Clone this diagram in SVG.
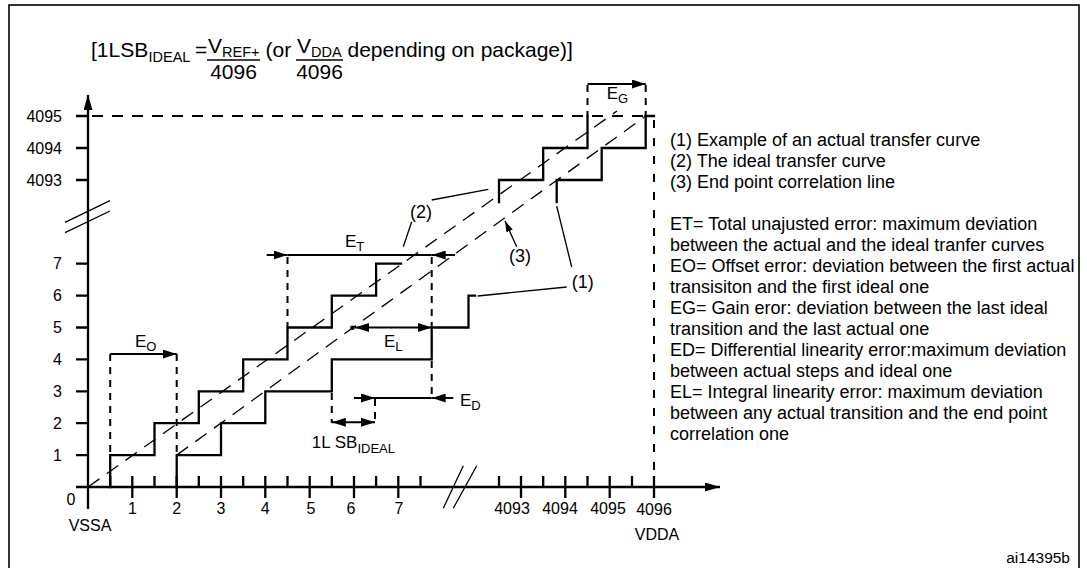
<svg xmlns="http://www.w3.org/2000/svg" width="1087" height="568" viewBox="0 0 1087 568">
<defs>
<style>
text{font-family:"Liberation Sans",Arial,Helvetica,sans-serif;fill:#000}
.f{font-size:21px}
.fs{font-size:14.5px}
.t18{font-size:18px}
.ax{font-size:16px}
.lbl{font-size:17px}
.sub{font-size:13px}
.axis{stroke:#000;stroke-width:2.3;fill:none}
.step{stroke:#000;stroke-width:2.3;fill:none;stroke-linejoin:miter;stroke-linecap:square}
.dv{stroke:#000;stroke-width:2;fill:none;stroke-dasharray:7 6}
.dv2{stroke:#000;stroke-width:2;fill:none;stroke-dasharray:8 10}
.dh{stroke:#000;stroke-width:2;fill:none;stroke-dasharray:11 9}
.diag{stroke:#000;stroke-width:1.3;fill:none;stroke-dasharray:14 9}
.lead{stroke:#000;stroke-width:1.3;fill:none}
.arr{stroke:#000;stroke-width:2;fill:none}
.tick{stroke:#000;stroke-width:2.3;fill:none}
.brk{stroke:#000;stroke-width:1.3;fill:none}
</style>
<marker id="ah" markerUnits="userSpaceOnUse" viewBox="0 0 14 9" markerWidth="14" markerHeight="9" refX="14" refY="4.5" orient="auto-start-reverse"><path d="M0,0 L14,4.5 L0,9 z" fill="#000"/></marker>
<marker id="ahs" markerUnits="userSpaceOnUse" viewBox="0 0 11 7" markerWidth="11" markerHeight="7" refX="11" refY="3.5" orient="auto"><path d="M0,0 L11,3.5 L0,7 z" fill="#000"/></marker>
<marker id="axh" markerUnits="userSpaceOnUse" viewBox="0 0 15 9" markerWidth="15" markerHeight="9" refX="15" refY="4.5" orient="auto"><path d="M0,0 L15,4.5 L0,9 z" fill="#000"/></marker>
</defs>

<rect id="frame" x="9" y="5" width="1070" height="600" fill="none" stroke="#000" stroke-width="1.6"/>

<g id="formula">
<text class="f" x="91" y="57">[1LSB</text>
<text class="fs" x="148.5" y="62">IDEAL</text>
<text class="f" x="195" y="57">=</text>
<text class="f" x="208" y="53">V</text>
<text class="fs" x="222" y="56.5">REF+</text>
<line x1="207" y1="60" x2="260" y2="60" stroke="#000" stroke-width="1.3"/>
<text class="f" x="233.5" y="79" text-anchor="middle">4096</text>
<text class="f" x="265.5" y="57">(or</text>
<text class="f" x="297" y="53">V</text>
<text class="fs" x="311" y="56.5">DDA</text>
<line x1="296" y1="60" x2="343" y2="60" stroke="#000" stroke-width="1.3"/>
<text class="f" x="319.5" y="79" text-anchor="middle">4096</text>
<text class="f" x="347.5" y="57">depending on package)]</text>
</g>

<g id="axes">
<line class="axis" x1="88" y1="509" x2="88" y2="95" marker-end="url(#axh)"/>
<line class="axis" x1="76" y1="487" x2="720" y2="487" marker-end="url(#axh)"/>
<path class="tick" d="M76,455.1H88 M76,423.2H88 M76,391.3H88 M76,359.4H88 M76,327.5H88 M76,295.6H88 M76,263.7H88 M76,180H88 M76,148H88 M76,116H88"/>
<path class="tick" d="M110.2,476V487 M154.5,476V487 M198.8,476V487 M243.2,476V487 M287.5,476V487 M331.8,476V487 M376.1,476V487 M420.5,476V487 M499,476V487 M543.2,476V487 M587.5,476V487 M632,476V487"/>
<path class="tick" d="M132.3,476V498 M176.7,476V498 M221,476V498 M265.3,476V498 M309.7,476V498 M354,476V498 M398.3,476V498 M521,476V498 M565.3,476V498 M609.7,476V498 M654,476V498"/>
<path class="brk" d="M65,222.3L110,200.7 M65,232.7L110,211"/>
<path class="brk" d="M443.3,508.3L463.3,465.7 M453.3,508.3L476.7,465.7"/>
</g>

<g id="axis-labels" class="ax">
<text x="62" y="121.7" text-anchor="end">4095</text>
<text x="62" y="153.7" text-anchor="end">4094</text>
<text x="62" y="185.7" text-anchor="end">4093</text>
<text x="62" y="269.4" text-anchor="end">7</text>
<text x="62" y="301.3" text-anchor="end">6</text>
<text x="62" y="333.2" text-anchor="end">5</text>
<text x="62" y="365.1" text-anchor="end">4</text>
<text x="62" y="397" text-anchor="end">3</text>
<text x="62" y="428.9" text-anchor="end">2</text>
<text x="62" y="460.8" text-anchor="end">1</text>
<text x="71" y="505" text-anchor="middle">0</text>
<text x="132.5" y="514" text-anchor="middle">1</text>
<text x="176.7" y="514" text-anchor="middle">2</text>
<text x="221" y="514" text-anchor="middle">3</text>
<text x="265.3" y="514" text-anchor="middle">4</text>
<text x="311" y="514" text-anchor="middle">5</text>
<text x="351" y="514" text-anchor="middle">6</text>
<text x="399" y="514" text-anchor="middle">7</text>
<text x="512" y="514" text-anchor="middle">4093</text>
<text x="560" y="514" text-anchor="middle">4094</text>
<text x="608" y="514" text-anchor="middle">4095</text>
<text x="654" y="515" text-anchor="middle">4096</text>
<text x="90" y="531" text-anchor="middle">VSSA</text>
<text x="657" y="540" text-anchor="middle">VDDA</text>
</g>

<g id="ideal-curve">
<path class="step" d="M110.2,487V455.1H154.5V423.2H198.8V391.3H243.2V359.4H287.5V327.5H331.8V295.6H376.1V263.7H401"/>
<path class="step" d="M499,202V180H543.2V148H587.5V116"/>
</g>

<g id="actual-curve">
<path class="step" d="M176.7,487V455.1H221V423.2H265.3V391.3H331.8V359.4H431.7V327.5H468.5V295.6H475"/>
<path class="step" d="M556.7,202V180H601.7V148H645.7V116H654"/>
</g>

<g id="lines">
<line class="diag" x1="88" y1="487" x2="617" y2="111"/>
<line class="diag" x1="176.7" y1="455.1" x2="645.7" y2="116"/>
<line class="dh" x1="92" y1="116" x2="654" y2="116"/>
<line class="dv2" x1="654" y1="120" x2="654" y2="487"/>
</g>

<g id="measures">
<path class="dv" d="M110.2,354V455 M176.7,354V455"/>
<path class="dv" d="M287.5,257V327 M431.7,257V327"/>
<path class="dv" d="M431.7,361V398"/>
<path class="dv" d="M375,399V423 M331.8,393V423"/>
<path class="dv" d="M587.5,85V116 M645.7,85V116"/>
<line class="arr" x1="110.2" y1="354" x2="176.7" y2="354" marker-end="url(#ah)"/>
<line class="arr" x1="266.7" y1="255" x2="287.5" y2="255" marker-end="url(#ah)"/>
<line class="arr" x1="287.5" y1="255" x2="431.7" y2="255"/>
<line class="arr" x1="455" y1="255" x2="431.7" y2="255" marker-end="url(#ah)"/>
<line class="arr" x1="355" y1="327.5" x2="431.7" y2="327.5" marker-start="url(#ah)" marker-end="url(#ah)"/>
<circle cx="352.5" cy="327.8" r="2.3" fill="#000"/>
<line class="arr" x1="354" y1="398" x2="375" y2="398" marker-end="url(#ah)"/>
<line class="arr" x1="375" y1="398" x2="431.7" y2="398"/>
<line class="arr" x1="453.3" y1="398" x2="431.7" y2="398" marker-end="url(#ah)"/>
<line class="arr" x1="331.8" y1="422.3" x2="375" y2="422.3" marker-start="url(#ah)" marker-end="url(#ah)"/>
<line class="arr" x1="587.5" y1="84" x2="645.7" y2="84" marker-end="url(#ah)"/>
</g>

<g id="connectors">
<line class="lead" x1="566.7" y1="287" x2="477.7" y2="296"/>
<line class="lead" x1="571.7" y1="267" x2="556.7" y2="206"/>
<line class="lead" x1="431.7" y1="200" x2="488.3" y2="189.3"/>
<line class="lead" x1="411.7" y1="221.7" x2="403.3" y2="246.7"/>
<line class="lead" x1="516.7" y1="246.7" x2="505" y2="221" marker-end="url(#ahs)"/>
</g>

<g id="measure-labels" class="lbl">
<text x="135" y="347">E<tspan class="sub" dy="4">O</tspan></text>
<text x="345" y="247">E<tspan class="sub" dy="4">T</tspan></text>
<text x="384" y="347">E<tspan class="sub" dy="4">L</tspan></text>
<text x="460" y="406">E<tspan class="sub" dy="4">D</tspan></text>
<text x="606.7" y="99.3">E<tspan class="sub" dy="4">G</tspan></text>
<text x="311.7" y="448.3">1L SB<tspan class="sub" dy="5">IDEAL</tspan></text>
<text class="t18" x="410" y="218">(2)</text>
<text class="t18" x="509" y="261.7">(3)</text>
<text class="t18" x="571.7" y="288.3">(1)</text>
</g>

<g id="legend" class="t18">
<text x="670" y="146">(1) Example of an actual transfer curve</text>
<text x="670" y="167">(2) The ideal transfer curve</text>
<text x="670" y="188">(3) End point correlation line</text>
<text x="670" y="230">ET= Total unajusted error: maximum deviation</text>
<text x="670" y="251">between the actual and the ideal tranfer curves</text>
<text x="670" y="272">EO= Offset error: deviation between the first actual</text>
<text x="670" y="293">transisiton and the first ideal one</text>
<text x="670" y="314">EG= Gain eror: deviation between the last ideal</text>
<text x="670" y="335">transition and the last actual one</text>
<text x="670" y="356">ED= Differential linearity error:maximum deviation</text>
<text x="670" y="377">between actual steps and ideal one</text>
<text x="670" y="398">EL= Integral linearity error: maximum deviation</text>
<text x="670" y="419">between any actual transition and the end point</text>
<text x="670" y="440">correlation one</text>
</g>

<text x="1070" y="563" text-anchor="end" style="font-size:15.5px">ai14395b</text>
</svg>
